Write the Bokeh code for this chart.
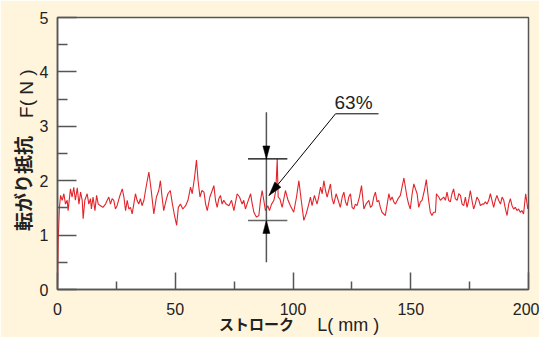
import math
from bokeh.plotting import figure
from bokeh.models import Range1d, Label, FixedTicker, LinearAxis
from bokeh.embed import file_html
from bokeh.resources import INLINE

# ---- data ----
stroke_mm = [0, 0.3, 0.8, 1.3, 2.0, 2.7, 3.4, 4.1, 4.5, 5.5, 6.2, 6.9, 7.6, 8.4, 9.1, 9.8,
             10.5, 10.9, 11.6, 12.6, 13.3, 14.0, 14.4, 15.1, 15.9, 16.6, 17.3, 18.3, 19.3,
             20.4, 21.1, 21.8, 22.5, 23.2, 23.9, 24.6, 25.3, 26.3, 27.5, 28.2, 28.9, 29.6,
             30.3, 31.0, 31.7, 32.4, 33.1, 33.8, 34.5, 35.2, 35.9, 36.7, 37.6, 38.8, 39.8,
             40.9, 42.0, 43.0, 43.7, 44.4, 45.1, 46.1, 46.9, 47.9, 48.8, 49.7,
             50.6, 51.3, 52.2, 53.2, 54.4, 55.4, 56.5, 57.2, 58.2, 59.0, 59.7, 60.5, 61.3,
             62.2, 62.9, 63.6, 64.7, 65.7, 66.4, 67.1, 67.8, 68.5, 69.2, 69.9, 70.6, 71.6,
             72.8, 73.9, 74.9, 76.3, 77.3, 78.4, 79.1, 79.8, 80.8, 82.0, 82.7, 83.4, 84.5,
             85.5, 86.2, 86.9, 87.6, 88.3, 89.3, 90.0, 90.9, 91.9, 92.7, 93.3, 93.7, 94.4,
             95.4, 96.8, 97.9, 98.9, 100.3, 101.5, 102.5, 103.5, 104.6, 105.6, 106.7, 107.4,
             108.1, 109.1, 110.2, 110.9, 111.7, 112.4, 113.1, 113.8, 114.5, 115.2, 115.9,
             116.6, 117.3, 118.3, 119.2, 120.1, 120.9, 121.6, 122.3, 123.0, 123.7, 124.4,
             125.1, 125.8, 126.5, 127.2, 128.2, 129.1, 130.1, 131.0, 132.2, 132.9, 133.6,
             134.3, 135.0, 135.7, 136.4, 137.1, 137.8, 139.2, 140.0, 140.7, 141.4, 142.1,
             142.8, 143.5, 144.6, 145.6, 146.3, 147.1, 148.4, 149.1, 149.8, 150.6, 151.3,
             152.0, 152.7, 153.4, 154.1, 154.8, 155.8, 156.6, 157.6, 158.3, 159.0, 159.7,
             160.5, 160.9, 161.9, 162.6, 163.3, 164.0, 164.7, 165.4, 166.1, 166.8, 167.5,
             168.2, 168.9, 169.7, 170.4, 171.1, 171.8, 172.5, 173.2, 173.9, 174.6, 175.3,
             176.0, 176.7, 177.4, 178.1, 178.9, 179.6, 180.3, 181.0, 181.7, 182.4, 183.1,
             183.8, 184.5, 185.2, 185.9, 186.6, 187.3, 188.1, 188.8, 189.5, 190.2, 190.9,
             191.6, 192.3, 193.0, 193.7, 194.4, 195.1, 195.8, 196.5, 197.2, 197.9, 198.8,
             199.7, 200.0]
force_n = [0.02, 0.9, 1.5, 1.73, 1.64, 1.76, 1.57, 1.64, 1.45, 1.85, 1.70, 1.88, 1.64, 1.87, 1.57, 1.79,
           1.64, 1.30, 1.64, 1.76, 1.57, 1.67, 1.48, 1.70, 1.45, 1.73, 1.57, 1.54, 1.51,
           1.57, 1.64, 1.70, 1.57, 1.67, 1.64, 1.48, 1.54, 1.70, 1.85, 1.70, 1.45, 1.64,
           1.48, 1.51, 1.39, 1.57, 1.76, 1.64, 1.57, 1.67, 1.54, 1.64, 1.88, 2.16, 1.82,
           1.39, 1.70, 1.82, 2.00, 1.70, 1.45, 1.64, 1.76, 1.82, 1.57, 1.36,
           1.18, 1.51, 1.57, 1.48, 1.54, 1.64, 1.88, 1.76, 2.06, 2.38, 2.00, 1.70, 1.82,
           1.79, 1.57, 1.45, 1.70, 1.82, 1.91, 1.64, 1.51, 1.67, 1.73, 1.57, 1.64, 1.57,
           1.54, 1.64, 1.45, 1.76, 1.70, 1.57, 1.64, 1.48, 1.61, 1.76, 1.57, 1.42, 1.33,
           1.36, 1.64, 1.82, 1.64, 1.45, 1.54, 1.45, 1.57, 1.64, 1.82, 2.40, 1.70, 1.67,
           1.51, 1.82, 1.64, 1.54, 1.42, 1.70, 2.00, 1.64, 1.27, 1.39, 1.57, 1.70,
           1.54, 1.73, 1.57, 1.70, 1.88, 1.76, 2.00, 1.82, 1.70, 1.82, 1.94,
           1.67, 1.57, 1.76, 1.64, 1.51, 1.70, 1.79, 1.61, 1.54, 1.70, 1.76,
           1.51, 1.48, 1.57, 1.54, 1.70, 1.91, 1.48, 1.57, 1.64, 1.51, 1.54,
           1.70, 1.79, 1.61, 1.64, 1.51, 1.42, 1.36, 1.57, 1.76, 1.64, 1.70,
           1.61, 1.57, 1.67, 1.73, 1.88, 2.05, 1.70, 1.57, 1.48, 1.76, 1.94,
           1.85, 1.76, 1.51, 1.61, 1.64, 1.82, 2.02, 1.64, 1.42, 1.36, 1.42,
           1.42, 1.76, 1.70, 1.64, 1.67, 1.70, 1.64, 1.79, 1.64, 1.61, 1.76,
           1.85, 1.67, 1.64, 1.76, 1.73, 1.57, 1.54, 1.70, 1.51, 1.64, 1.82,
           1.64, 1.48, 1.57, 1.70, 1.64, 1.54, 1.57, 1.57, 1.61, 1.57, 1.64,
           1.76, 1.64, 1.51, 1.64, 1.73, 1.64, 1.57, 1.70, 1.64, 1.48, 1.36,
           1.57, 1.67, 1.54, 1.48, 1.51, 1.45, 1.48, 1.42, 1.45, 1.39, 1.76,
           1.48, 1.55]

x_ticks = [0, 50, 100, 150, 200]
y_ticks = [0, 1, 2, 3, 4, 5]

x_title_jp, x_title_unit = "ストローク", "L( mm )"
y_title_jp, y_title_unit = "転がり抵抗", "F( N )"

# annotation (63% fluctuation band)
band_x = 88.7
band_top, band_bottom = 2.40, 1.27
band_left, band_right = 80.9, 97.6
band_line_top, band_line_bottom = 3.26, 0.50
pct_label = "63%"

# ---- layout ----
W, H = 539, 337
ML, MR, MT, MB = 57, 11, 17, 48
FW, FH = W - ML - MR, H - MT - MB
X0, X1, Y0, Y1 = 0, 200, 0, 5
kx = FW / (X1 - X0)
ky = FH / (Y1 - Y0)

def dx(px):
    return X0 + (px - ML) / kx

def dy(py):
    return Y0 + (H - MB - py) / ky

CREAM = "#FFF5DD"
FRAME = "#555555"
RED = "#E3242B"
TXT = "#222222"
JP = "Noto Sans CJK JP"

p = figure(width=W, height=H, x_range=Range1d(X0, X1), y_range=Range1d(Y0, Y1),
           output_backend="svg", toolbar_location=None,
           min_border_left=ML, min_border_right=MR, min_border_top=MT, min_border_bottom=MB)
p.background_fill_color = "white"
p.border_fill_color = CREAM
p.outline_line_color = FRAME
p.outline_line_width = 1.5
p.grid.visible = False

p.xaxis.ticker = FixedTicker(ticks=x_ticks, minor_ticks=[25, 75, 125, 175])
p.yaxis.ticker = FixedTicker(ticks=y_ticks, minor_ticks=[0.5, 1.5, 2.5, 3.5, 4.5])
for ax in (p.xaxis[0], p.yaxis[0]):
    ax.axis_line_color = FRAME
    ax.axis_line_width = 1.5
    ax.major_tick_line_color = FRAME
    ax.minor_tick_line_color = FRAME
    ax.major_tick_line_width = 1.5
    ax.minor_tick_line_width = 1.5
    ax.major_tick_out = 0
    ax.minor_tick_out = 0
    ax.major_label_text_font = "Liberation Sans"
    ax.major_label_text_font_size = "16px"
    ax.major_label_text_color = TXT
p.xaxis.major_tick_in = 17
p.xaxis.minor_tick_in = 8
p.yaxis.major_tick_in = 19
p.yaxis.minor_tick_in = 10
p.xaxis.major_label_standoff = 13
p.yaxis.major_label_standoff = 9

# axis titles: label-only axes so that the two parts can have different weights
def title_axis(side, pos, text, font, bold, size, standoff, vertical=False):
    ax = LinearAxis(ticker=FixedTicker(ticks=[pos], minor_ticks=[]),
                    major_label_overrides={pos: text})
    ax.axis_line_color = None
    ax.major_tick_line_color = None
    ax.minor_tick_line_color = None
    ax.major_tick_out = 0
    ax.major_tick_in = 0
    ax.major_label_standoff = standoff
    ax.major_label_text_font = font
    ax.major_label_text_font_style = "bold" if bold else "normal"
    ax.major_label_text_font_size = size
    ax.major_label_text_color = TXT
    if vertical:
        ax.major_label_orientation = "vertical"
    p.add_layout(ax, side)
    return ax

title_axis("below", 123.5, x_title_unit, "Liberation Sans", False, "18px", -3)
title_axis("below", 84.5, x_title_jp, JP, True, "15px", -25)
title_axis("left", 1.95, y_title_jp, JP, True, "19px", 0, vertical=True)
title_axis("left", 3.6, y_title_unit, "Liberation Sans", False, "19px", -31, vertical=True)

# data line
p.line(stroke_mm, force_n, line_color=RED, line_width=1.1)

# annotation lines
p.segment(x0=[band_x], y0=[band_line_bottom], x1=[band_x], y1=[band_line_top],
          line_color="#555555", line_width=1.5)
p.segment(x0=[band_left], y0=[band_top], x1=[band_right], y1=[band_top],
          line_color="black", line_width=1.3)
p.segment(x0=[band_left], y0=[band_bottom], x1=[band_right], y1=[band_bottom],
          line_color="#666666", line_width=1.5)

def head(tx, ty, fx, fy, length=13, width=7):
    # triangle in pixel space, converted back to data
    vx, vy = (tx - fx) * kx, (ty - fy) * ky
    n = math.hypot(vx, vy)
    ux, uy = vx / n, vy / n
    bx, by = -ux * length, -uy * length
    nx, ny = -uy * width / 2, ux * width / 2
    xs = [tx, tx + (bx + nx) / kx, tx + (bx - nx) / kx]
    ys = [ty, ty + (by + ny) / ky, ty + (by - ny) / ky]
    return xs, ys

hx, hy = head(band_x, band_top, band_x, band_line_top)
p.patch(hx, hy, fill_color="black", line_color="black", line_width=0.5)
hx, hy = head(band_x, band_bottom, band_x, band_line_bottom)
p.patch(hx, hy, fill_color="black", line_color="black", line_width=0.5)

# leader line to the 63% label
lead_end = (dx(378), dy(113.3))
lead_knee = (dx(335), dy(113.3))
lead_tip = (dx(268.5), dy(195))
p.line([lead_end[0], lead_knee[0], lead_tip[0]], [lead_end[1], lead_knee[1], lead_tip[1]],
       line_color="black", line_width=1)
hx, hy = head(lead_tip[0], lead_tip[1], lead_knee[0], lead_knee[1], length=14, width=8)
p.patch(hx, hy, fill_color="black", line_color="black", line_width=0.5)

p.add_layout(Label(x=dx(334), y=dy(112), text=pct_label, text_font="Liberation Sans",
                   text_font_size="19px", text_color=TXT, text_baseline="bottom",
                   text_align="left"))

open("out.html", "w").write(file_html(p, INLINE))
